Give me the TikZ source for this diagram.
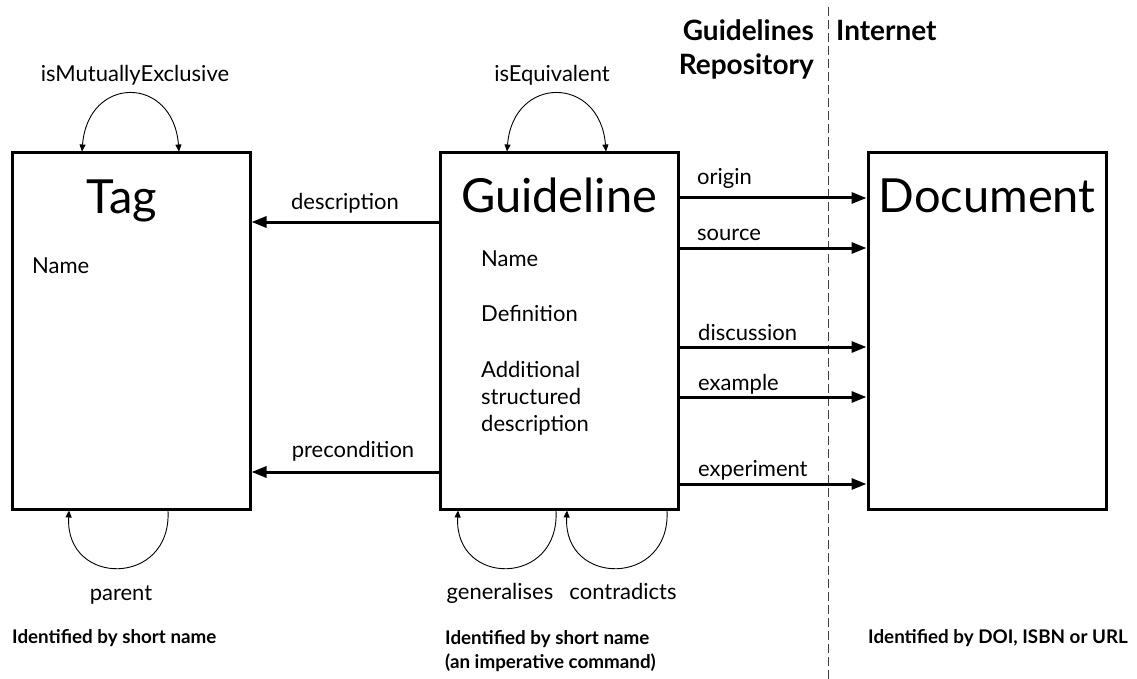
\documentclass[tikz,border=0pt]{standalone}
\usepackage{fontspec}
\setmainfont{Lato}
\usetikzlibrary{arrows.meta}
\begin{document}
\begin{tikzpicture}[x=1pt,y=-1pt,
  box/.style={draw, line width=3pt, minimum width=238pt, minimum height=356pt, inner sep=0pt},
  lbl/.style={font=\fontsize{22}{26}\selectfont, inner sep=0pt, anchor=base},
  lblw/.style={lbl, anchor=base west},
  ttl/.style={font=\fontsize{47}{54}\selectfont, inner sep=0pt, anchor=base},
  hdr/.style={font=\bfseries\fontsize{28}{32}\selectfont, inner sep=0pt},
  foot/.style={font=\bfseries\fontsize{18.8}{22}\selectfont, inner sep=0pt, anchor=base west},
  rel/.style={line width=3pt, -{Triangle[length=15pt,width=11pt]}},
  selfrel/.style={line width=0.9pt, -{Triangle[length=7pt,width=6pt]}},
  bothrel/.style={line width=0.9pt, {Triangle[length=7pt,width=6pt]}-{Triangle[length=7pt,width=6pt]}},
  sep/.style={line width=1pt, draw=black!75, dash pattern=on 9pt off 4pt}
]
\useasboundingbox (0,0) rectangle (1137,679);

% boxes
\node[box] (tag) at (131,331) {};
\node[box] (guide) at (559,331) {};
\node[box] (doc) at (987,331) {};

% separator
\coordinate (sepTop) at (828,7);
\coordinate (sepBot) at (828,679);
\draw[sep] (sepTop) -- (sepBot);

% headers
\node[hdr, anchor=base east] (h1) at (814,41) {Guidelines};
\node[hdr, anchor=base east] (h2) at (814,75) {Repository};
\node[hdr, anchor=base west] (h3) at (836,41) {Internet};

% titles
\node[ttl] (tTag) at (122,214) {Tag};
\node[ttl] (tGuide) at (559,212) {Guideline};
\node[ttl] (tDoc) at (987,212) {Document};

% attributes
\node[lblw] (aTagName) at (32,273) {Name};
\node[lblw] (aGName) at (481,266) {Name};
\node[lblw] (aGDef) at (481,321) {Definition};
\node[lblw] (aGAdd1) at (481,377) {Additional};
\node[lblw] (aGAdd2) at (481,404) {structured};
\node[lblw] (aGAdd3) at (481,431) {description};

% relations to Tag
\draw[rel] (guide.west |- 0,222) -- (tag.east |- 0,222);
\node[lbl] (lDesc) at (345,209) {description};
\draw[rel] (guide.west |- 0,472) -- (tag.east |- 0,472);
\node[lbl] (lPre) at (353,457) {precondition};

% relations to Document
\draw[rel] (guide.east |- 0,198) -- (doc.west |- 0,198);
\node[lblw] (lOrigin) at (697,185) {origin};
\draw[rel] (guide.east |- 0,248) -- (doc.west |- 0,248);
\node[lblw] (lSource) at (697,240) {source};
\draw[rel] (guide.east |- 0,347) -- (doc.west |- 0,347);
\node[lblw] (lDisc) at (698,340) {discussion};
\draw[rel] (guide.east |- 0,397) -- (doc.west |- 0,397);
\node[lblw] (lEx) at (698,390) {example};
\draw[rel] (guide.east |- 0,484) -- (doc.west |- 0,484);
\node[lblw] (lExp) at (698,476) {experiment};

% self relations
\draw[bothrel] (tag.north -| 82,0) .. controls (88,75) and (173,75) .. (tag.north -| 179,0);
\node[lbl] (lMut) at (135,82) {isMutuallyExclusive};
\draw[bothrel] (guide.north -| 507,0) .. controls (513,75) and (600,75) .. (guide.north -| 606,0);
\node[lbl] (lEq) at (552,82) {isEquivalent};

\draw[selfrel] (tag.south -| 168,0) .. controls (172,587) and (65,587) .. (tag.south -| 69,0);
\node[lbl] (lPar) at (121,600) {parent};
\draw[selfrel] (guide.south -| 556,0) .. controls (560,587) and (454,587) .. (guide.south -| 458,0);
\node[lbl] (lGen) at (500,599) {generalises};
\draw[selfrel] (guide.south -| 667,0) .. controls (671,587) and (563,587) .. (guide.south -| 567,0);
\node[lbl] (lCon) at (623,599) {contradicts};

% footers
\node[foot] (f1) at (12,643) {Identified by short name};
\node[foot] (f2) at (445,644) {Identified by short name};
\node[foot] (f3) at (445,668) {(an imperative command)};
\node[foot] (f4) at (868,643) {Identified by DOI, ISBN or URL};
\end{tikzpicture}
\end{document}
